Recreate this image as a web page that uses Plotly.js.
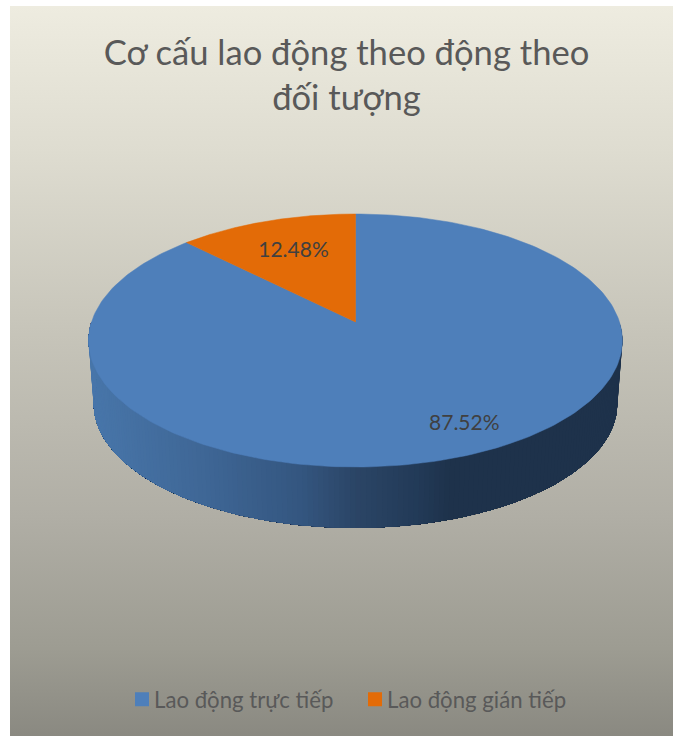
<!DOCTYPE html>
<html>
<head>
<meta charset="utf-8">
<script src="https://cdn.plot.ly/plotly-3.0.1.min.js"></script>
<style>
  html, body { margin: 0; padding: 0; background: #ffffff; }
  #panel {
    position: absolute; left: 10px; top: 6px; width: 663px; height: 730px;
    background: linear-gradient(to bottom, #eeece0 0%, #dedcd0 20%, #c6c4b9 45%, #b0aea5 70%, #9d9c92 88%, #8a8981 100%);
  }
  #chart { position: absolute; left: 0; top: 0; width: 673px; height: 736px; }
  .legendpoints { transform: translate(8px, 0); }
</style>
</head>
<body>
<div id="panel"></div>
<div id="chart"></div>
<script>
// Workforce structure by type of employee, drawn as a tilted pie with a front wall.
const chartTitle = "Cơ cấu lao động theo động theo<br>đối tượng";
const categories = ["Lao động trực tiếp", "Lao động gián tiếp"];
const shares = [87.52, 12.48];
const sliceColors = ["#4e7fba", "#e36b07"];

const FONT = "Lato, 'Noto Sans', sans-serif";

// Perspective projection of a flat disc onto the page.
const apex = { x: 355.5, y: 322 };
const persp = 0.1462, radiusX = 264, radiusY = 123.8;
const wallDrop = 63.7, wallScale = 0.981;

// Angles are clockwise from the back of the disc, in degrees.
function discPoint(deg, r) {
  const a = deg * Math.PI / 180;
  const u = r * Math.sin(a), v = -r * Math.cos(a);
  const d = 1 - persp * v;
  return [radiusX * u / d, radiusY * v / d];
}
function topPoint(deg, r) {
  const p = discPoint(deg, r);
  return [apex.x + p[0], apex.y + p[1]];
}
function basePoint(deg) {
  const p = discPoint(deg, 1);
  return [apex.x + p[0] * wallScale, apex.y + p[1] * wallScale + wallDrop];
}

// Shading across the wall, from the lit left side to the dark right side.
const wallShade = [
  [88, [72, 118, 170]], [200, [63, 103, 150]], [300, [52, 86, 128]],
  [355, [43, 69, 102]], [420, [34, 58, 87]], [450, [30, 50, 75]], [625, [30, 50, 75]]
];
function shadeAt(x) {
  for (let i = 1; i < wallShade.length; i++) {
    const [x0, c0] = wallShade[i - 1], [x1, c1] = wallShade[i];
    if (x <= x1) {
      const t = Math.max(0, (x - x0) / (x1 - x0));
      return "rgb(" + c0.map((c, k) => Math.round(c + (c1[k] - c) * t)).join(",") + ")";
    }
  }
  return "rgb(30,50,75)";
}

const traces = [];

// Front wall of the disc: each layer runs on to the left edge and is painted
// over the previous one, so no background shows between the shades.
const wallStep = 1, wallEnd = 270;
for (let deg = 90; deg < wallEnd; deg += wallStep) {
  const xs = [], ys = [], bx = [], by = [];
  for (let t = deg; t <= wallEnd; t += wallStep) {
    const a = topPoint(t, 1), b = basePoint(t);
    xs.push(a[0]); ys.push(a[1]);
    bx.unshift(b[0]); by.unshift(b[1]);
  }
  const col = shadeAt(topPoint(deg + wallStep / 2, 1)[0]);
  traces.push({
    type: "scatter", mode: "lines", fill: "toself", fillcolor: col,
    x: xs.concat(bx, [xs[0]]), y: ys.concat(by, [ys[0]]),
    line: { width: 0 }, showlegend: false, hoverinfo: "skip"
  });
}

// Top face: one filled wedge per category, clockwise from the back of the disc.
const total = shares.reduce((s, v) => s + v, 0);
let start = 0;
const labelX = [], labelY = [], labelText = [];
const labelPlace = [{ turn: -4, r: 0.825 }, { turn: 0, r: 0.67 }];
shares.forEach((value, i) => {
  const sweep = value / total * 360;
  const xs = [apex.x], ys = [apex.y];
  for (let k = 0; k <= 240; k++) {
    const p = topPoint(start + sweep * k / 240, 1);
    xs.push(p[0]); ys.push(p[1]);
  }
  xs.push(apex.x); ys.push(apex.y);
  traces.push({
    type: "scatter", mode: "lines", fill: "toself", fillcolor: sliceColors[i],
    x: xs, y: ys, line: { color: sliceColors[i], width: 0.5 },
    showlegend: false, hoverinfo: "skip"
  });
  const mid = topPoint(start + sweep / 2 + labelPlace[i].turn, labelPlace[i].r);
  labelX.push(mid[0]); labelY.push(mid[1]);
  labelText.push(value.toFixed(2) + "%");
  start += sweep;
});

// Value labels.
traces.push({
  type: "scatter", mode: "text", x: labelX, y: labelY, text: labelText,
  textposition: "middle center",
  textfont: { family: FONT, size: 21, color: "#404040" },
  showlegend: false, hoverinfo: "skip"
});

// Legend entries.
categories.forEach((name, i) => {
  traces.push({
    type: "scatter", mode: "markers", name: name, x: [null], y: [null],
    marker: { symbol: "square", size: 14, color: sliceColors[i] },
    hoverinfo: "skip"
  });
});

const layout = {
  width: 673, height: 736,
  margin: { l: 0, r: 0, t: 0, b: 0 },
  paper_bgcolor: "rgba(0,0,0,0)", plot_bgcolor: "rgba(0,0,0,0)",
  title: {
    text: chartTitle, x: 346.5 / 673, xanchor: "center", y: 0.912, yanchor: "middle",
    font: { family: FONT, size: 34.6, color: "#595959" }
  },
  xaxis: { visible: false, range: [0, 673], fixedrange: true },
  yaxis: { visible: false, range: [736, 0], fixedrange: true },
  showlegend: true,
  legend: {
    orientation: "h", x: 114 / 673, xanchor: "left", y: 0.05, yanchor: "middle",
    font: { family: FONT, size: 22.2, color: "#595959" },
    bgcolor: "rgba(0,0,0,0)", itemwidth: 30,
    entrywidth: 188, entrywidthmode: "pixels"
  }
};

Plotly.newPlot("chart", traces, layout, { displayModeBar: false, staticPlot: true });
</script>
</body>
</html>
